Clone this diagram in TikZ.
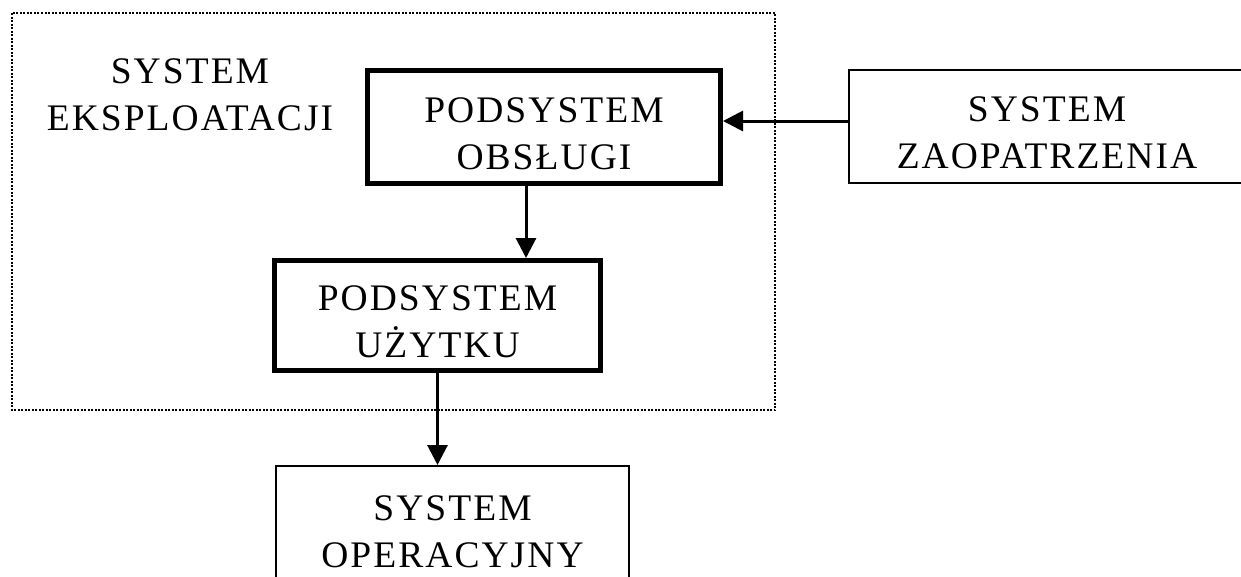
\documentclass[tikz,border=0pt]{standalone}
\usepackage{fontspec}
\setmainfont{Liberation Serif}[LetterSpace=5.5]
\usetikzlibrary{arrows.meta}
\begin{document}
\begin{tikzpicture}[x=1pt,y=-1pt,
  txt/.style={font=\fontsize{37.5}{47}\selectfont, align=center, text height=90pt, text depth=6pt},
  heavybox/.style={txt, draw, line width=5pt, inner sep=0pt},
  lightbox/.style={txt, draw, line width=2pt, inner sep=0pt},
  flow/.style={line width=3pt, -{Triangle[length=20pt,width=20pt]}}
]
\useasboundingbox (0,0) rectangle (1241,576);
\clip (0,0) rectangle (1241,576);

% enclosing operating system frame
\draw[line width=2pt, dash pattern=on 2pt off 1.5pt] (12,13) rectangle (775,410);
\node[txt] (eks) at (190,88) {SYSTEM\\EKSPLOATACJI};

% subsystems
\node[heavybox, minimum width=353pt, minimum height=113pt] (obs) at (544,127) {PODSYSTEM\\OBSŁUGI};
\node[heavybox, minimum width=326pt, minimum height=110pt] (uzy) at (437.5,315.5) {PODSYSTEM\\UŻYTKU};

% external systems
\node[lightbox, minimum width=396pt, minimum height=113pt] (zao) at (1047,126.5) {SYSTEM\\ZAOPATRZENIA};
\node[lightbox, minimum width=353pt, minimum height=118pt] (ope) at (452.5,525) {SYSTEM\\OPERACYJNY};

% flows
\draw[flow] ([yshift=5.5pt]zao.west) -- ([yshift=5.5pt]zao.west -| obs.east);
\draw[flow] ([xshift=-18pt]obs.south) -- ([xshift=-18pt]obs.south |- uzy.north);
\draw[flow] (uzy.south) -- (uzy.south |- ope.north);
\end{tikzpicture}
\end{document}
